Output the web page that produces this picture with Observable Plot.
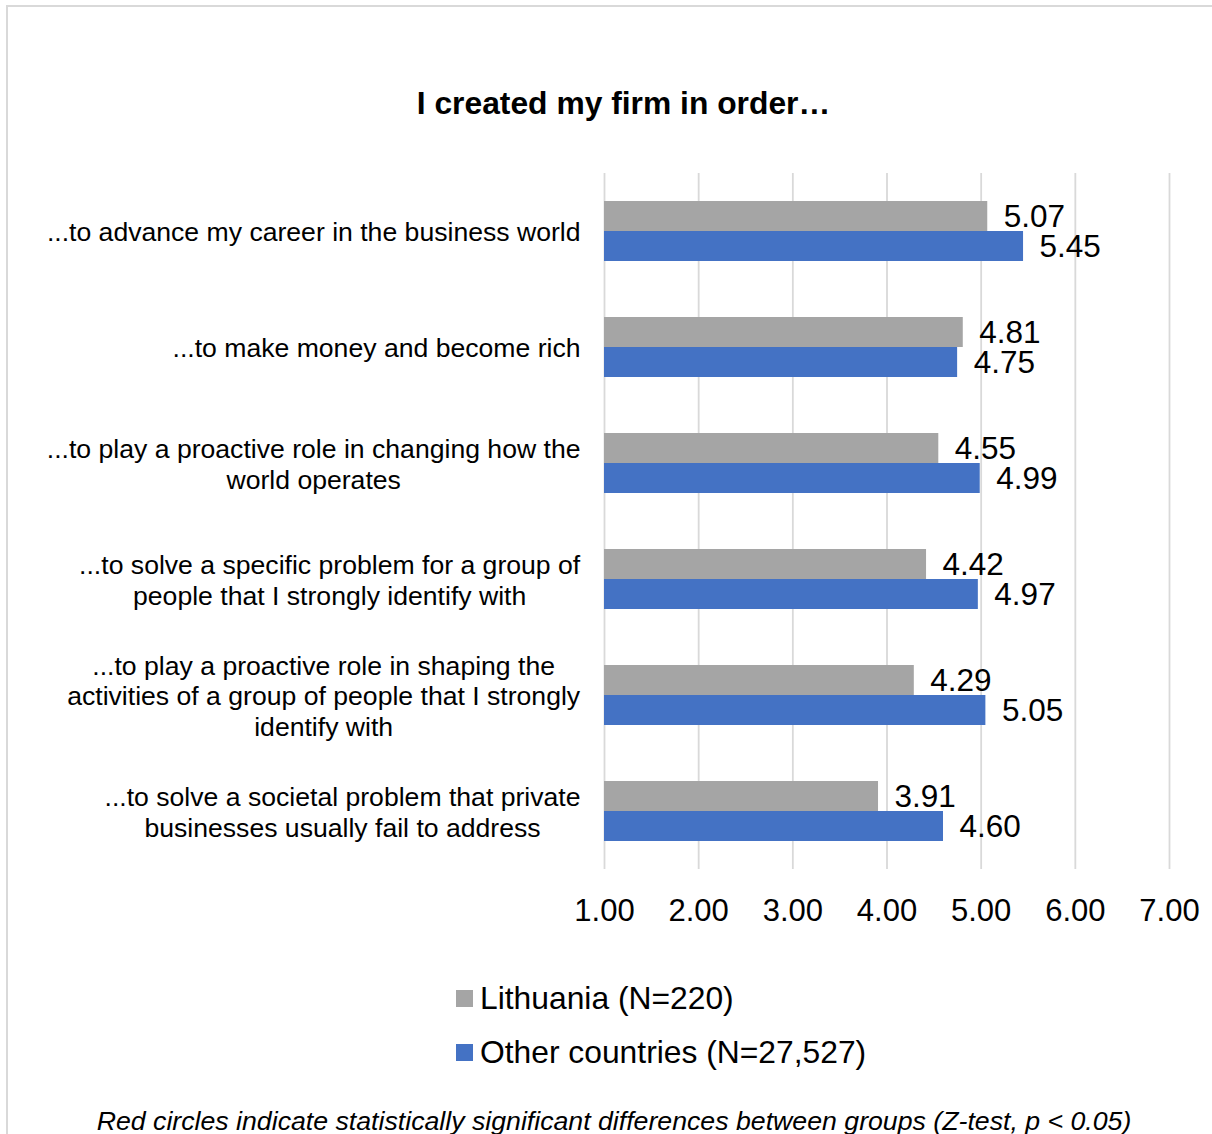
<!DOCTYPE html>
<html>
<head>
<meta charset="utf-8">
<script src="https://cdn.jsdelivr.net/npm/d3@7"></script>
<script src="https://cdn.jsdelivr.net/npm/@observablehq/plot@0.6"></script>
<style>
  html, body { margin: 0; padding: 0; background: #fff; }
  body { width: 1212px; height: 1134px; position: relative; overflow: hidden;
         font-family: "Liberation Sans", Arial, sans-serif; color: #000; }
  #frame { position: absolute; left: 6px; top: 5px; width: 1400px; height: 1400px;
           border: 2px solid #d9d9d9; box-sizing: border-box; pointer-events: none; }
  #title { position: absolute; top: 85px; left: 623.5px; transform: translateX(-50%);
           font-weight: bold; font-size: 31.8px; white-space: nowrap; }
  #chart { position: absolute; left: 0; top: 0; }
  #legend { position: absolute; left: 456px; top: 978px; font-size: 31.8px; }
  .row { display: flex; align-items: center; height: 40px; margin-bottom: 14px; white-space: nowrap; }
  .sw { width: 17px; height: 17px; margin-right: 7px; }
  #caption { position: absolute; top: 1106px; left: 614px; transform: translateX(-50%);
             font-style: italic; font-size: 26.7px; white-space: nowrap; }
</style>
</head>
<body>
<div id="title">I created my firm in order…</div>
<div id="chart"></div>
<div id="legend"></div>
<div id="caption">Red circles indicate statistically significant differences between groups (Z-test, p &lt; 0.05)</div>
<div id="frame"></div>
<script>
// ---- Data ----
const categories = [
  "...to advance my career in the business world",
  "...to make money and become rich",
  "...to play a proactive role in changing how the world operates",
  "...to solve a specific problem for a group of people that I strongly identify with",
  "...to play a proactive role in shaping the activities of a group of people that I strongly identify with",
  "...to solve a societal problem that private businesses usually fail to address"
];
const categoryLines = [
  ["...to advance my career in the business world"],
  ["...to make money and become rich"],
  ["...to play a proactive role in changing how the", "world operates"],
  ["...to solve a specific problem for a group of", "people that I strongly identify with"],
  ["...to play a proactive role in shaping the", "activities of a group of people that I strongly", "identify with"],
  ["...to solve a societal problem that private", "businesses usually fail to address"]
];
const seriesNames = ["Lithuania (N=220)", "Other countries (N=27,527)"];
const lithuania = [5.07, 4.81, 4.55, 4.42, 4.29, 3.91];
const otherCountries = [5.45, 4.75, 4.99, 4.97, 5.05, 4.60];
const seriesColors = ["#a5a5a5", "#4472c4"];
const xTicks = [1, 2, 3, 4, 5, 6, 7];

const data = categories.flatMap((c, i) => [
  {cat: c, series: seriesNames[0], value: lithuania[i]},
  {cat: c, series: seriesNames[1], value: otherCountries[i]}
]);
const labelOf = new Map(categories.map((c, i) => [c, categoryLines[i].join("\n")]));

const chart = Plot.plot({
  width: 1212,
  height: 950,
  marginLeft: 604,
  marginRight: 43,
  marginTop: 171,
  marginBottom: 79,
  style: {background: "transparent", fontFamily: "'Liberation Sans', Arial, sans-serif", color: "#000", overflow: "visible"},
  x: {domain: [1, 7]},
  fy: {domain: categories, padding: 0},
  y: {domain: seriesNames, paddingInner: 0, paddingOuter: 0.9, axis: null},
  color: {domain: seriesNames, range: seriesColors},
  marks: [
    Plot.ruleX(xTicks, {stroke: "#d9d9d9", strokeWidth: 1.8}),
    Plot.barX(data, {x1: d => 1, x2: "value", y: "series", fy: "cat", fill: "series"}),
    Plot.text(data, {x: "value", y: "series", fy: "cat", text: d => d.value.toFixed(2),
      textAnchor: "start", dx: 16, fontSize: 31.5, fill: "#000"}),
    Plot.axisX({ticks: xTicks, tickFormat: d => d.toFixed(2), tickSize: 0, tickPadding: 29,
      fontSize: 31, label: null}),
    Plot.axisFy({anchor: "left", tickSize: 0, tickPadding: 24, fontSize: 26.6, lineHeight: 1.15,
      dy: 0, tickFormat: c => labelOf.get(c), label: null, lineWidth: 100})
  ]
});
document.getElementById("chart").appendChild(chart);

// center-align multi-line category labels, keeping right edge at the axis gap
chart.querySelectorAll('[aria-label="fy-axis tick label"] text').forEach(t => {
  const w = t.getBBox().width;
  t.setAttribute("text-anchor", "middle");
  const tr = t.getAttribute("transform") || "";
  t.setAttribute("transform", tr + ` translate(${-w / 2},0)`);
});

// legend
const legend = document.getElementById("legend");
seriesNames.forEach((s, i) => {
  const row = document.createElement("div");
  row.className = "row";
  const sw = document.createElement("div");
  sw.className = "sw";
  sw.style.background = seriesColors[i];
  const lab = document.createElement("span");
  lab.textContent = s;
  row.appendChild(sw); row.appendChild(lab);
  legend.appendChild(row);
});
</script>
</body>
</html>
